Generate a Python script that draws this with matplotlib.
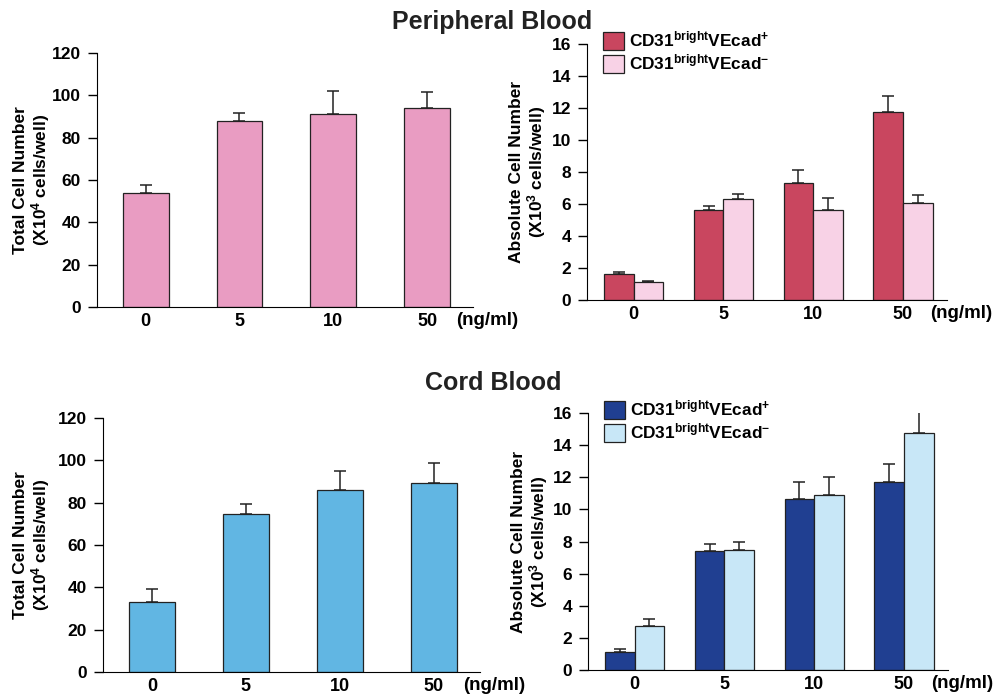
import numpy as np
import matplotlib
matplotlib.use("Agg")
import matplotlib.pyplot as plt

plt.rcParams['font.family'] = ['Liberation Sans', 'DejaVu Sans']
plt.rcParams['font.weight'] = 'bold'
plt.rcParams['mathtext.fontset'] = 'custom'
plt.rcParams['mathtext.rm'] = 'Liberation Sans:bold'
plt.rcParams['mathtext.it'] = 'Liberation Sans:bold'
plt.rcParams['mathtext.bf'] = 'Liberation Sans:bold'

doses = ['0', '5', '10', '50']

# peripheral blood
pb_total = [54, 88, 91, 94]
pb_total_err = [3.5, 3.5, 11, 7.5]
pb_pos = [1.6, 5.65, 7.3, 11.75]
pb_pos_err = [0.12, 0.2, 0.85, 1.0]
pb_neg = [1.1, 6.3, 5.65, 6.05]
pb_neg_err = [0.08, 0.3, 0.7, 0.5]

# cord blood
cb_total = [33, 74.5, 86, 89.5]
cb_total_err = [6, 5, 9, 9]
cb_pos = [1.1, 7.4, 10.65, 11.7]
cb_pos_err = [0.18, 0.45, 1.05, 1.15]
cb_neg = [2.75, 7.45, 10.9, 14.75]
cb_neg_err = [0.45, 0.5, 1.1, 1.35]

pos_label = r'CD31$^{\mathrm{bright}}$VEcad$^{+}$'
neg_label = r'CD31$^{\mathrm{bright}}$VEcad$^{-}$'


def style_axes(ax, ymax, ystep):
    ax.spines['top'].set_visible(False)
    ax.spines['right'].set_visible(False)
    ax.set_ylim(0, ymax)
    ax.set_yticks(np.arange(0, ymax + 1e-9, ystep))
    ax.set_xlim(-0.52, 3.49)
    ax.set_xticks(range(len(doses)))
    ax.set_xticklabels(doses)
    ax.tick_params(axis='x', length=0, pad=4, labelsize=13)
    ax.tick_params(axis='y', length=6.5, width=1, pad=5, labelsize=12.5)
    for lab in ax.get_xticklabels() + ax.get_yticklabels():
        lab.set_fontweight('bold')
    ax.annotate('(ng/ml)', xy=(1, 0), xycoords='axes fraction', xytext=(-12, -9.5),
                textcoords='offset points', ha='left', va='center', fontsize=13.5,
                fontweight='bold')


def up_err(ax, x, y, e):
    ax.errorbar(x, y, yerr=[np.zeros(len(e)), e], fmt='none', ecolor='#222222',
                elinewidth=1.1, capsize=4, capthick=1.1, zorder=1)


def total_panel(ax, vals, errs, color):
    x = np.arange(len(doses))
    ax.bar(x, vals, width=0.49, color=color, edgecolor='#222222', linewidth=0.9, zorder=2)
    up_err(ax, x, vals, errs)
    style_axes(ax, 120, 20)


def split_panel(ax, pos, pos_err, neg, neg_err, c_pos, c_neg):
    x = np.arange(len(doses))
    w = 0.33
    ax.bar(x - w / 2, pos, width=w, color=c_pos, edgecolor='#222222', linewidth=0.9,
           zorder=2, label=pos_label)
    ax.bar(x + w / 2, neg, width=w, color=c_neg, edgecolor='#222222', linewidth=0.9,
           zorder=2, label=neg_label)
    up_err(ax, x - w / 2, pos, pos_err)
    up_err(ax, x + w / 2, neg, neg_err)
    style_axes(ax, 16, 2)
    ax.legend(loc='upper left', bbox_to_anchor=(0.045, 1.055), frameon=False,
              borderaxespad=0, borderpad=0, handlelength=1.22, handleheight=1.22,
              handletextpad=0.3, labelspacing=0.17, prop={'size': 12.4, 'weight': 'bold'})


fig = plt.figure(figsize=(10.02, 6.97), dpi=100)

ax1 = fig.add_axes([0.0968, 0.5595, 0.3752, 0.3644])
ax2 = fig.add_axes([0.5858, 0.5696, 0.3593, 0.3673])
ax3 = fig.add_axes([0.1028, 0.0359, 0.3762, 0.3644])
ax4 = fig.add_axes([0.5868, 0.0387, 0.3593, 0.3687])

total_panel(ax1, pb_total, pb_total_err, '#e99cc2')
split_panel(ax2, pb_pos, pb_pos_err, pb_neg, pb_neg_err, '#c9465f', '#f8d2e6')
total_panel(ax3, cb_total, cb_total_err, '#61b6e3')
split_panel(ax4, cb_pos, cb_pos_err, cb_neg, cb_neg_err, '#203f91', '#c8e7f7')

total_lab = 'Total Cell Number\n(X10$^{4}$ cells/well)'
abs_lab = 'Absolute Cell Number\n(X10$^{3}$ cells/well)'
for ax, lab, xc in [(ax1, total_lab, -0.12), (ax2, abs_lab, -0.108),
                    (ax3, total_lab, -0.135), (ax4, abs_lab, -0.106)]:
    ax.set_ylabel(lab, fontsize=12.5, fontweight='bold', linespacing=1.05)
    ax.yaxis.set_label_coords(xc, 0.5)

fig.text(0.491, 0.968, 'Peripheral Blood', ha='center', va='center', fontsize=18,
         fontweight='bold', color='#222222')
fig.text(0.492, 0.451, 'Cord Blood', ha='center', va='center', fontsize=18,
         fontweight='bold', color='#222222')

fig.savefig('out.png', dpi=100)
